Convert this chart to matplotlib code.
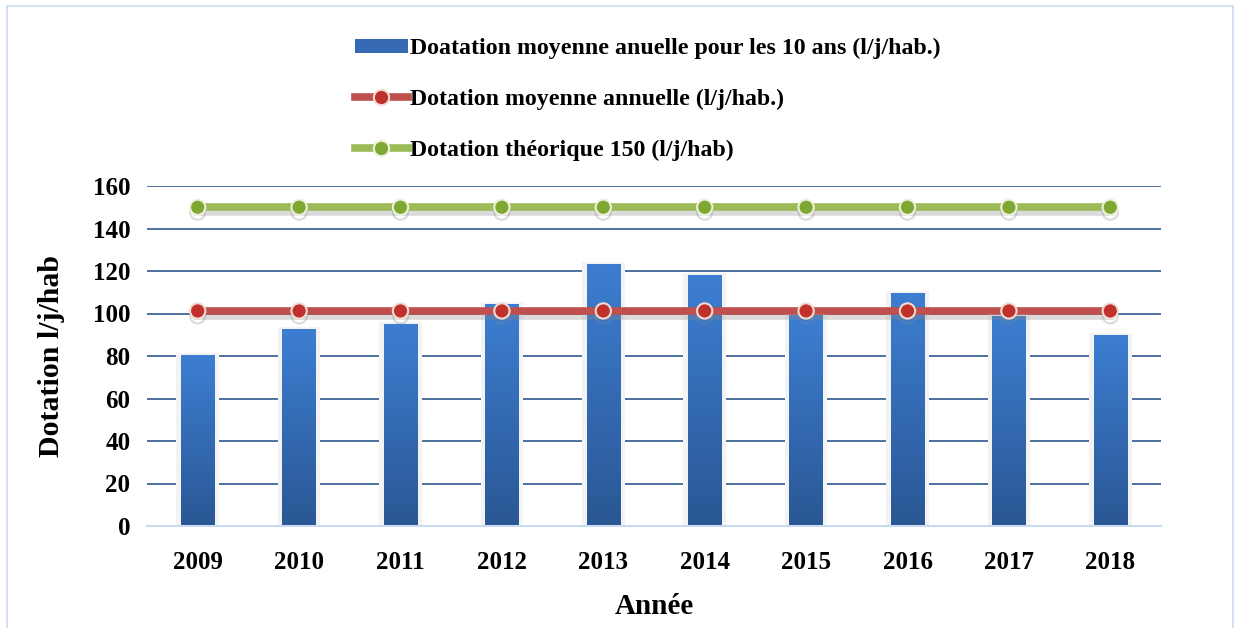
#!/usr/bin/env python3

"""
Dotation moyenne annuelle en eau potable 2009-2018 (l/j/hab).
"""

import numpy as np
import matplotlib
matplotlib.use('Agg')
import matplotlib.pyplot as plt
import matplotlib.patheffects as pe
from matplotlib.patches import Patch, Rectangle
from matplotlib.lines import Line2D

years = ['2009', '2010', '2011', '2012', '2013', '2014', '2015', '2016', '2017', '2018']
dotation = [80.3, 92.7, 95.1, 104.5, 123.3, 118.1, 99.5, 109.6, 98.8, 89.9]
moyenne = [101.2] * len(years)
theorique = [150] * len(years)

label_bar = 'Doatation moyenne anuelle pour les 10 ans (l/j/hab.)'
label_moy = 'Dotation moyenne annuelle (l/j/hab.)'
label_th = 'Dotation théorique 150 (l/j/hab)'

FONT = 'Liberation Serif'


def gradient_bars(ax, bars, top='#3D7ED2', bottom='#2A5794'):
    grad = np.linspace(0, 1, 256).reshape(-1, 1)
    cmap = matplotlib.colors.LinearSegmentedColormap.from_list('g', [bottom, top])
    for b in bars:
        x0, y0 = b.get_x(), b.get_y()
        w, h = b.get_width(), b.get_height()
        im = ax.imshow(grad, cmap=cmap, origin='lower', aspect='auto',
                       extent=(x0, x0 + w, y0, y0 + h), zorder=3)
        im.set_clip_path(b)


def main():
    fig = plt.figure(figsize=(12.34, 6.28), dpi=100)
    fig.patches.append(Rectangle((7 / 1234, -0.01), 1226 / 1234, 1 - 6 / 628 + 0.01,
                                 transform=fig.transFigure, fill=False,
                                 edgecolor='#D3E1F3', linewidth=1.5))
    ax = fig.add_axes([147 / 1234, 1 - 526 / 628, 1014 / 1234, 340 / 628])

    x = np.arange(len(years))

    # light glow behind bars
    ax.bar(x, np.array(dotation) + 1.0, width=0.42, color='#F3F3F3', zorder=1)
    bars = ax.bar(x, dotation, width=0.33, color='none', zorder=3)
    gradient_bars(ax, bars)

    shadow = [pe.SimpleLineShadow(offset=(0, -3.5), shadow_color='#888888', alpha=0.3),
              pe.Normal()]
    ax.plot(x, theorique, color='#9BBB59', lw=5.5, marker='o', ms=11,
            mfc='#7EA734', mec='#EEF0DC', mew=1.5, zorder=5, path_effects=shadow)
    ax.plot(x, moyenne, color='#C0504D', lw=5.5, marker='o', ms=11,
            mfc='#C0302C', mec='#F0DCD2', mew=1.5, zorder=5, path_effects=shadow)

    ax.set_xlim(-0.5, len(years) - 0.5)
    ax.set_ylim(0, 160)
    ax.set_yticks(range(0, 161, 20))
    ax.set_xticks(x)
    ax.set_xticklabels(years)
    ax.yaxis.grid(True, color='#3E6497', lw=1.3, zorder=2)
    ax.set_axisbelow(True)
    for s in ['top', 'right', 'left']:
        ax.spines[s].set_visible(False)
    ax.spines['bottom'].set_color('#C9DAF0')
    ax.spines['bottom'].set_linewidth(1.5)
    ax.spines['bottom'].set_zorder(4)
    ax.tick_params(length=0, pad=12)
    ax.tick_params(axis='x', pad=18)
    for lbl in ax.get_xticklabels() + ax.get_yticklabels():
        lbl.set_fontfamily(FONT)
        lbl.set_fontweight('bold')
        lbl.set_fontsize(18)

    ax.set_ylabel('Dotation l/j/hab', fontfamily=FONT, fontweight='bold',
                  fontsize=21.5, labelpad=20)
    ax.set_xlabel('Année', fontfamily=FONT, fontweight='bold', fontsize=21, labelpad=14)

    handles = [
        Patch(facecolor='#3569B4', edgecolor='none'),
        Line2D([], [], color='#C0504D', lw=5.5, marker='o', ms=11,
               mfc='#C0302C', mec='#F0DCD2', mew=1.5),
        Line2D([], [], color='#9BBB59', lw=5.5, marker='o', ms=11,
               mfc='#7EA734', mec='#EEF0DC', mew=1.5),
    ]
    fig.legend(handles, [label_bar, label_moy, label_th], loc='upper left',
               bbox_to_anchor=(355 / 1234, 1 - 38 / 628), frameon=False,
               borderpad=0, borderaxespad=0, handlelength=2.2, handleheight=0.55,
               handletextpad=0.12, labelspacing=1.25,
               prop={'family': FONT, 'weight': 'bold', 'size': 17.2})

    fig.savefig('out.png', dpi=100)


if __name__ == "__main__":
    main()
